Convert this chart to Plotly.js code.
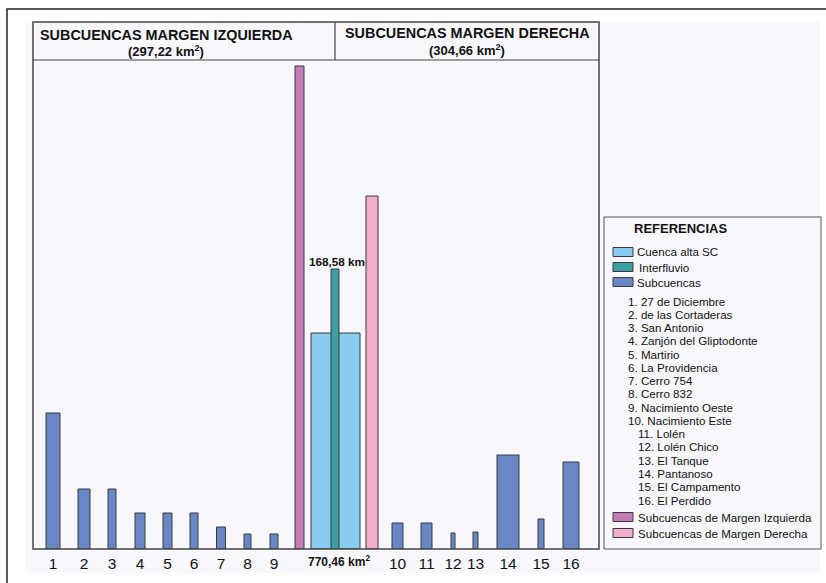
<!DOCTYPE html>
<html><head><meta charset="utf-8">
<script src="https://cdn.plot.ly/plotly-3.0.1.min.js"></script>
<style>html,body{margin:0;padding:0;background:#fff}#chart{width:826px;height:583px}</style>
</head><body><div id="chart"></div>
<script>
// ---- data (schematic bar chart: bar area ~ basin area) ----
const subLabels = ['1','2','3','4','5','6','7','8','9','10','11','12','13','14','15','16'];
const subX      = [53, 84, 112, 140, 167.5, 194, 221, 247.5, 274, 397.5, 426.5, 453, 475.5, 508, 541, 571];
const subWidth  = [14, 12, 8, 10, 9, 8, 9, 7, 8, 11, 11, 4, 5, 22, 6, 16];
const subHeight = [136, 60, 60, 36, 36, 36, 22, 15, 15, 26, 26, 16, 17, 94, 30, 87];

const mainNames  = ['Subcuencas de Margen Izquierda', 'Cuenca alta SC', 'Interfluvio', 'Subcuencas de Margen Derecha'];
const mainX      = [299.5, 335.5, 335, 372];
const mainWidth  = [9, 49, 8, 12];
const mainHeight = [483, 216, 280, 353];

const centerLabel = '770,46 km<sup>2</sup>';
const interfluvioLabel = '168,58 km';
const headerLeft  = ['SUBCUENCAS MARGEN IZQUIERDA', '(297,22 km<sup>2</sup>)'];
const headerRight = ['SUBCUENCAS MARGEN DERECHA', '(304,66 km<sup>2</sup>)'];
const refNames = ['1. 27 de Diciembre','2. de las Cortaderas','3. San Antonio','4. Zanjón del Gliptodonte','5. Martirio','6. La Providencia','7. Cerro 754','8. Cerro 832','9. Nacimiento Oeste','10. Nacimiento Este','11. Lolén','12. Lolén Chico','13. El Tanque','14. Pantanoso','15. El Campamento','16. El Perdido'];

// ---- styles ----
const C = {sub:'#6987c7', alta:'#88cdf0', inter:'#3a9ea2', izq:'#c47cb8', der:'#f3aecf', line:'#3a3a3a', bg:'#f8f8fc'};
const mainColors = [C.izq, C.alta, C.inter, C.der];
const FONT = 'Liberation Sans, Arial, sans-serif';

// plot area in pixels
const L = 33, R = 599, T = 60, B = 549;
const px = x => (x - L) / (R - L);
const py = y => (B - y) / (B - T);

const traces = [];
mainNames.forEach((n, i) => {
  traces.push({type:'bar', x:[mainX[i]], y:[mainHeight[i]], width:[mainWidth[i]], name:n,
    marker:{color:mainColors[i], line:{color:C.line, width:1}}, hoverinfo:'name'});
});
traces.push({type:'bar', x:subX, y:subHeight, width:subWidth, name:'Subcuencas', text:subLabels,
  marker:{color:C.sub, line:{color:C.line, width:1}}, textposition:'none', hoverinfo:'text'});

const shapes = [];
const rect = (x0,y0,x1,y1,o) => shapes.push(Object.assign({type:'rect', xref:'paper', yref:'paper', x0:px(x0), x1:px(x1), y0:py(y1), y1:py(y0)}, o));
const line = (x0,y0,x1,y1,o) => shapes.push(Object.assign({type:'line', xref:'paper', yref:'paper', x0:px(x0), x1:px(x1), y0:py(y0), y1:py(y1)}, o));

rect(25, 22, 820, 573, {fillcolor:C.bg, line:{width:0}, layer:'below'});
rect(7, 9, 840, 600, {line:{color:'#222', width:1.5}});
rect(33, 22, 599, 549, {line:{color:'#444', width:1.5}});
line(33, 60, 599, 60, {line:{color:'#444', width:1.2}});
line(335, 22, 335, 60, {line:{color:'#444', width:1.2}});
rect(604, 217, 821, 549, {line:{color:'#555', width:1}, fillcolor:'rgba(0,0,0,0)'});

const ann = [];
const txt = (x, y, t, size, anchor, color) => ann.push({xref:'paper', yref:'paper', x:px(x), y:py(y), text:t, showarrow:false,
  xanchor:anchor||'left', yanchor:'middle', font:{family:FONT, size:size, color:color||'#111'}});

txt(166, 35, '<b>'+headerLeft[0]+'</b>', 14.4, 'center');
txt(166, 51, '<b>'+headerLeft[1]+'</b>', 13, 'center');
txt(467, 33, '<b>'+headerRight[0]+'</b>', 14.4, 'center');
txt(467, 50, '<b>'+headerRight[1]+'</b>', 13, 'center');

txt(337, 261, '<b>'+interfluvioLabel+'</b>', 11.7, 'center');
txt(339, 561, '<b>'+centerLabel+'</b>', 12, 'center');

// legend
txt(681, 229, '<b>REFERENCIAS</b>', 13, 'center');
const sw = [[C.alta, 'Cuenca alta SC', 252, 637], [C.inter, 'Interfluvio', 267, 639], [C.sub, 'Subcuencas', 282, 637],
            [C.izq, mainNames[0], 517, 638], [C.der, mainNames[3], 533, 638]];
sw.forEach(s => {
  rect(613, s[2]-4.5, 633, s[2]+4.5, {fillcolor:s[0], line:{color:C.line, width:1}});
  txt(s[3]-2, s[2], s[1], 11.6, 'left');
});
refNames.forEach((n, i) => {
  const y = 301 + i * (199 / 15);
  txt(i >= 10 ? 636 : 626, y, n, 11.6, 'left');
});

const layout = {
  width:826, height:583, margin:{l:L, r:826-R, t:T, b:583-B, pad:0},
  paper_bgcolor:'#ffffff', plot_bgcolor:'rgba(0,0,0,0)',
  showlegend:false, barmode:'overlay',
  xaxis:{range:[L, R], tickvals:subX, ticktext:subLabels, showgrid:false, zeroline:false,
    showline:false, ticks:'', ticklabelstandoff:3, tickfont:{family:FONT, size:15.5, color:'#111'}, fixedrange:true},
  yaxis:{range:[0, B-T], visible:false, fixedrange:true},
  shapes:shapes, annotations:ann
};
Plotly.newPlot('chart', traces, layout, {displayModeBar:false, staticPlot:true});
</script></body></html>
